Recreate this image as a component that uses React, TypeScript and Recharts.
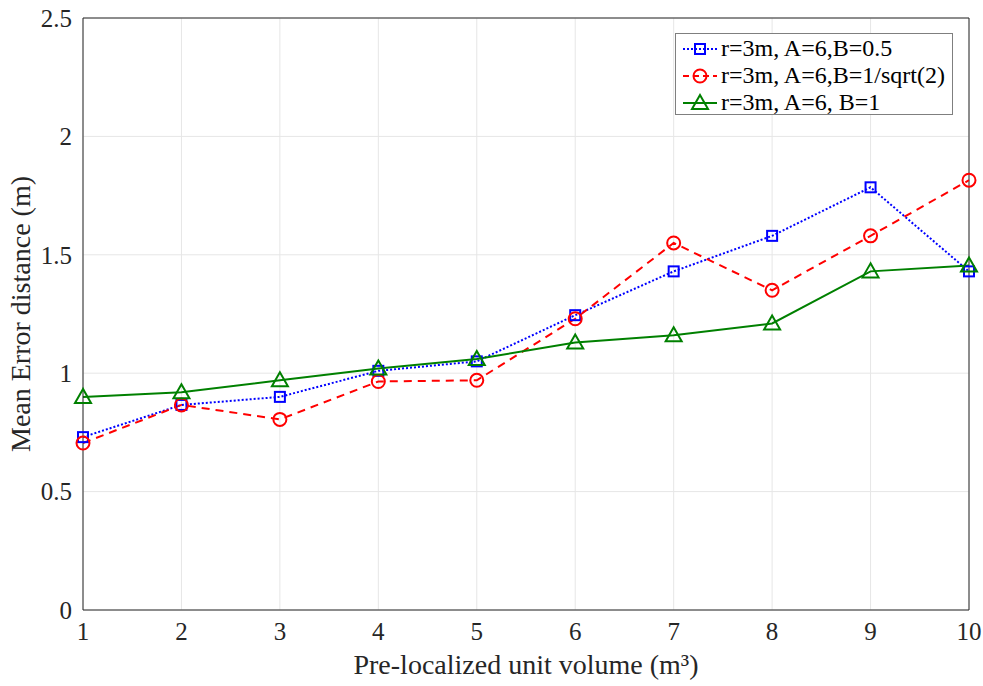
import React from 'react';
import { LineChart, Line, XAxis, YAxis, CartesianGrid, ReferenceLine } from 'recharts';

const volumes = [1, 2, 3, 4, 5, 6, 7, 8, 9, 10];
const seriesB05 = [0.73, 0.866, 0.9, 1.01, 1.05, 1.245, 1.43, 1.58, 1.785, 1.43];
const seriesBSqrt = [0.705, 0.866, 0.805, 0.965, 0.97, 1.23, 1.55, 1.35, 1.58, 1.815];
const seriesB1 = [0.9, 0.92, 0.97, 1.02, 1.06, 1.13, 1.16, 1.21, 1.43, 1.455];
const yTicks = [0, 0.5, 1, 1.5, 2, 2.5];

const data = volumes.map((v, i) => ({
  vol: v,
  b05: seriesB05[i],
  bsqrt: seriesBSqrt[i],
  b1: seriesB1[i],
}));

const FONT = '"Liberation Serif", "Times New Roman", serif';
const AXIS = '#262626';

const legendItems = [
  { label: 'r=3m, A=6,B=0.5', color: '#0000ff', dash: '2 2', shape: 'square' },
  { label: 'r=3m, A=6,B=1/sqrt(2)', color: '#ff0000', dash: '6 4', shape: 'circle' },
  { label: 'r=3m, A=6, B=1', color: '#008000', dash: undefined, shape: 'triangle' },
];

const Marker = ({ cx, cy, shape, color }: { cx: number; cy: number; shape: string; color: string }) => {
  if (cx == null || cy == null) return null;
  if (shape === 'square') {
    return <rect x={cx - 5} y={cy - 5} width={10} height={10} fill="none" stroke={color} strokeWidth={2} />;
  }
  if (shape === 'circle') {
    return <circle cx={cx} cy={cy} r={6.5} fill="none" stroke={color} strokeWidth={2} />;
  }
  return (
    <polygon
      points={`${cx},${cy - 8} ${cx - 8},${cy + 6} ${cx + 8},${cy + 6}`}
      fill="none"
      stroke={color}
      strokeWidth={2}
    />
  );
};

const renderDot = (shape: string, color: string) => (props: any) => (
  <Marker key={`${shape}-${props.index}`} cx={props.cx} cy={props.cy} shape={shape} color={color} />
);

// legend drawn as a plain box so it doesn't shrink the plot area
const LegendBox = () => (
  <div
    style={{
      position: 'absolute',
      left: 675,
      top: 33,
      width: 278,
      height: 82,
      border: '1px solid #7f7f7f',
      background: '#fff',
      padding: '1px 0 0 5px',
      fontFamily: FONT,
      fontSize: 24,
      color: '#000',
      lineHeight: '27px',
      boxSizing: 'border-box',
    }}
  >
    {legendItems.map((it) => (
      <div key={it.label} style={{ display: 'flex', alignItems: 'center', whiteSpace: 'nowrap', height: 27 }}>
        <svg width={38} height={20} style={{ marginRight: 2 }}>
          <line x1={2} y1={10} x2={36} y2={10} stroke={it.color} strokeWidth={2} strokeDasharray={it.dash} />
          <Marker cx={19} cy={10} shape={it.shape} color={it.color} />
        </svg>
        <span>{it.label}</span>
      </div>
    ))}
  </div>
);

export default function App() {
  return (
    <div style={{ position: 'absolute', left: 0, top: 0, width: 983, height: 686, background: '#fff' }}>
      <LineChart width={983} height={686} data={data} margin={{ top: 18, right: 14, left: 0, bottom: 0 }}>
        <CartesianGrid stroke="#e6e6e6" strokeWidth={1} />
        <XAxis
          dataKey="vol"
          type="number"
          domain={[1, 10]}
          ticks={volumes}
          height={76}
          stroke={AXIS}
          tickLine={false}
          tickMargin={6}
          tick={{ fontFamily: FONT, fontSize: 25, fill: '#262626' }}
          label={{
            value: 'Pre-localized unit volume (m³)',
            position: 'insideBottom',
            offset: 12,
            style: { fontFamily: FONT, fontSize: 28, fill: '#262626' },
          }}
        />
        <YAxis
          type="number"
          domain={[0, 2.5]}
          ticks={yTicks}
          width={83}
          stroke={AXIS}
          tickLine={false}
          tickMargin={5}
          tick={{ fontFamily: FONT, fontSize: 25, fill: '#262626' }}
          label={{
            value: 'Mean Error distance (m)',
            angle: -90,
            position: 'insideLeft',
            offset: 20,
            style: { textAnchor: 'middle', fontFamily: FONT, fontSize: 28, fill: '#262626' },
          }}
        />
        <ReferenceLine y={2.5} stroke={AXIS} strokeWidth={1} />
        <ReferenceLine x={10} stroke={AXIS} strokeWidth={1} />
        <Line
          dataKey="b05"
          stroke="#0000ff"
          strokeWidth={2}
          strokeDasharray="2 2"
          dot={renderDot('square', '#0000ff')}
          isAnimationActive={false}
        />
        <Line
          dataKey="bsqrt"
          stroke="#ff0000"
          strokeWidth={2}
          strokeDasharray="8 6"
          dot={renderDot('circle', '#ff0000')}
          isAnimationActive={false}
        />
        <Line
          dataKey="b1"
          stroke="#008000"
          strokeWidth={2}
          dot={renderDot('triangle', '#008000')}
          isAnimationActive={false}
        />
      </LineChart>
      <LegendBox />
    </div>
  );
}
